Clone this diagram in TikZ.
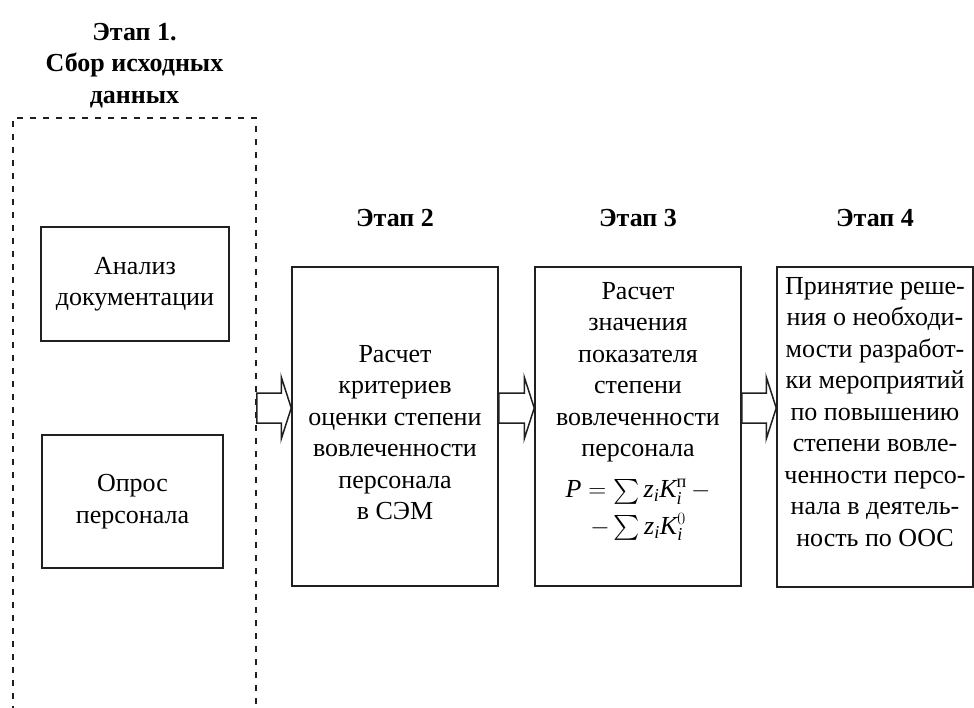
\documentclass[tikz,border=0pt]{standalone}
\usepackage{amsmath}
\usepackage{fontspec}
\setmainfont{Liberation Serif}
\usetikzlibrary{calc}
\definecolor{linec}{HTML}{231F20}
\newcommand{\ivar}[1]{\textit{#1}}
\begin{document}
\begin{tikzpicture}[x=1pt,y=-1pt,
  txt/.style={font=\fontsize{26}{31.5}\selectfont, align=center, inner sep=0pt},
  ttl/.style={font=\fontsize{26}{31.5}\selectfont\bfseries, align=center, inner sep=0pt},
  box/.style={draw=linec, line width=1.5pt, rectangle, inner sep=0pt,
              font=\fontsize{26}{31.5}\selectfont, align=center},
  dashbox/.style={draw=linec, line width=1.5pt, dash pattern=on 6pt off 7pt, rectangle, inner sep=0pt},
  barrow/.style={draw=linec, line width=1.5pt, fill=white, line join=miter}]
\useasboundingbox (0,0) rectangle (974,708);
\clip (0,0) rectangle (974,708);
\coordinate (ay) at (0,408);

% stage 1
\node[ttl, anchor=north] (t1) at (134.5,23) {Этап 1.\\Сбор исходных\\данных};
\node[dashbox, minimum width=243pt, minimum height=642pt] (stage1) at (134.5,439) {};
\node[box, minimum width=188pt, minimum height=114pt] (analiz) at (135,284) {Анализ\\документации};
\node[box, minimum width=181pt, minimum height=133pt] (opros) at (132.5,501.5) {Опрос\\персонала};

% stage titles
\node[ttl, anchor=base] (t2) at (395,227) {Этап 2};
\node[ttl, anchor=base] (t3) at (638,227) {Этап 3};
\node[ttl, anchor=base] (t4) at (875,227) {Этап 4};

% stage boxes
\node[box, minimum width=206pt, minimum height=319pt] (s2) at (395,426.5) {};
\node[box, minimum width=206pt, minimum height=319pt] (s3) at (638,426.5) {};
\node[box, minimum width=196pt, minimum height=320pt] (s4) at (875,427) {};

\node[txt, anchor=north] (s2t) at (395,345) {Расчет\\критериев\\оценки степени\\вовлеченности\\персонала\\в СЭМ};
\node[txt, anchor=north] (s3t) at (638,282) {Расчет\\значения\\показателя\\степени\\вовлеченности\\персонала};
\node[txt, anchor=north] (s3f) at (638,479) {$\ivar{P}=\sum \ivar{z}_{\ivar{i}}\ivar{K}_{\ivar{i}}^{\text{п}}\,-$\\[5pt] $-\sum \ivar{z}_{\ivar{i}}\ivar{K}_{\ivar{i}}^{0}$};
\node[txt, anchor=north] (s4t) at (875,277) {Принятие реше-\\ния о необходи-\\мости разработ-\\ки мероприятий\\по повышению\\степени вовле-\\ченности персо-\\нала в деятель-\\ность по ООС};

% block arrows
\draw[barrow] let \p1=(stage1.east), \p2=(s2.west), \p3=(ay) in
  (\x1,\y3+15pt) -- (\x2-10pt,\y3+15pt) -- (\x2-10pt,\y3+31pt) -- (\x2,\y3)
  -- (\x2-10pt,\y3-31pt) -- (\x2-10pt,\y3-15pt) -- (\x1,\y3-15pt) -- cycle;
\draw[barrow] let \p1=(s2.east), \p2=(s3.west), \p3=(ay) in
  (\x1,\y3+15pt) -- (\x2-10pt,\y3+15pt) -- (\x2-10pt,\y3+31pt) -- (\x2,\y3)
  -- (\x2-10pt,\y3-31pt) -- (\x2-10pt,\y3-15pt) -- (\x1,\y3-15pt) -- cycle;
\draw[barrow] let \p1=(s3.east), \p2=(s4.west), \p3=(ay) in
  (\x1,\y3+15pt) -- (\x2-10pt,\y3+15pt) -- (\x2-10pt,\y3+31pt) -- (\x2,\y3)
  -- (\x2-10pt,\y3-31pt) -- (\x2-10pt,\y3-15pt) -- (\x1,\y3-15pt) -- cycle;
\end{tikzpicture}
\end{document}
